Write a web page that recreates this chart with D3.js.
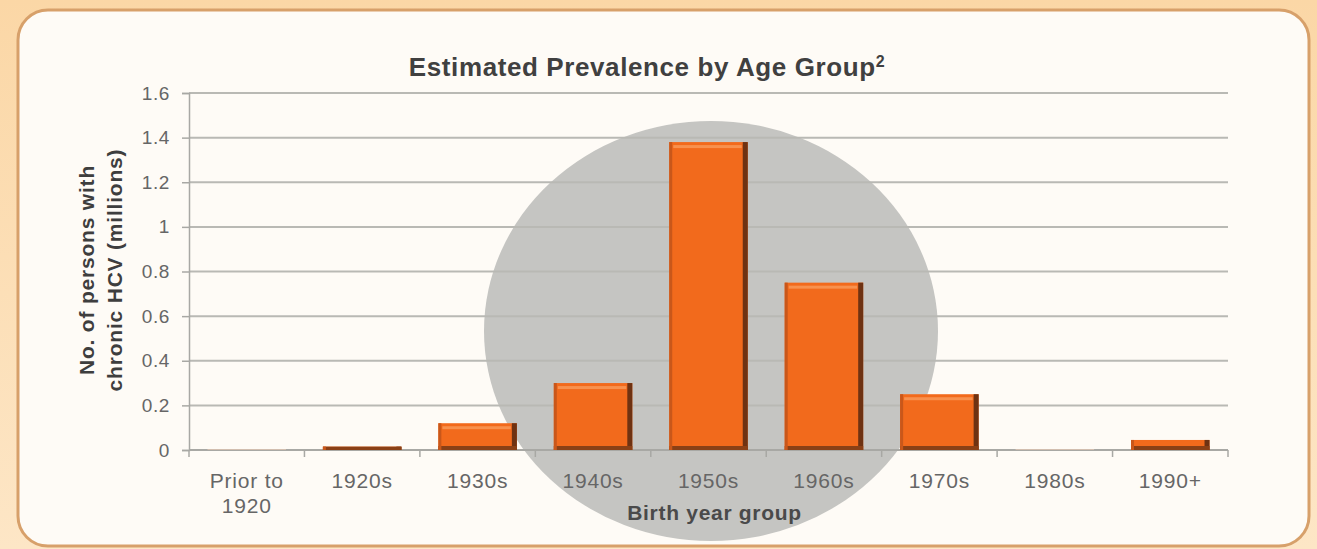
<!DOCTYPE html>
<html>
<head>
<meta charset="utf-8">
<script src="https://cdn.jsdelivr.net/npm/d3@7"></script>
<style>
  html, body { margin: 0; padding: 0; background: #fcdcb2; }
  svg { display: block; }
</style>
</head>
<body>
<div id="chart"></div>
<script>
// data
const groups = ["Prior to 1920", "1920s", "1930s", "1940s", "1950s", "1960s", "1970s", "1980s", "1990+"];
const persons = [0.003, 0.015, 0.12, 0.30, 1.38, 0.75, 0.25, 0.003, 0.045];
const yTicks = [0, 0.2, 0.4, 0.6, 0.8, 1, 1.2, 1.4, 1.6];

const W = 1317, H = 549;
const margin = { top: 93, right: 89, bottom: 99, left: 189 };
const width = W - margin.left - margin.right;
const height = H - margin.top - margin.bottom;
const font = "Liberation Sans, Arial, sans-serif";

const svg = d3.select("#chart").append("svg")
    .attr("width", W)
    .attr("height", H);

// background glow + framed panel
const defs = svg.append("defs");
const bg = defs.append("linearGradient").attr("id", "bg").attr("x1", 0).attr("y1", 0).attr("x2", 0).attr("y2", 1);
bg.append("stop").attr("offset", "0%").attr("stop-color", "#fbd7a6");
bg.append("stop").attr("offset", "100%").attr("stop-color", "#fde6c6");
svg.append("rect").attr("width", W).attr("height", H).attr("fill", "url(#bg)");

svg.append("rect")
    .attr("x", 18).attr("y", 10)
    .attr("width", 1291).attr("height", 536)
    .attr("rx", 30).attr("ry", 30)
    .attr("fill", "#fefbf6")
    .attr("stroke", "#d7a06a")
    .attr("stroke-width", 3);

// grey spotlight behind the middle bars
svg.append("ellipse")
    .attr("cx", 711).attr("cy", 331)
    .attr("rx", 227).attr("ry", 210)
    .attr("fill", "#c5c5c2");

const g = svg.append("g")
    .attr("transform", `translate(${margin.left},${margin.top})`);

const x = d3.scaleBand()
    .domain(groups)
    .range([0, width])
    .paddingInner(0.32)
    .paddingOuter(0.16);

const y = d3.scaleLinear()
    .domain([0, 1.6])
    .range([height, 0]);

// gridlines
g.selectAll(".grid")
    .data(yTicks.slice(1))
    .enter()
    .append("line")
    .attr("class", "grid")
    .attr("x1", 0).attr("x2", width)
    .attr("y1", d => y(d)).attr("y2", d => y(d))
    .attr("stroke", "#b9b9b4")
    .attr("stroke-width", 2);

// y axis
const yAxis = g.append("g")
    .call(d3.axisLeft(y).tickValues(yTicks).tickSize(7).tickPadding(12).tickFormat(d3.format("")));
yAxis.select(".domain").attr("stroke", "#a8a8a4").attr("stroke-width", 1.5);
yAxis.selectAll(".tick line").attr("stroke", "#a8a8a4").attr("stroke-width", 1.5);
yAxis.selectAll("text")
    .attr("fill", "#666")
    .style("font-family", font)
    .style("font-size", "19px")
    .style("letter-spacing", "0.6px");

// x axis baseline and category separators
const step = x.step();
g.append("line")
    .attr("x1", 0).attr("x2", width)
    .attr("y1", height).attr("y2", height)
    .attr("stroke", "#a8a8a4").attr("stroke-width", 2);
g.selectAll(".xsep")
    .data(d3.range(groups.length + 1))
    .enter()
    .append("line")
    .attr("x1", i => i * step).attr("x2", i => i * step)
    .attr("y1", height).attr("y2", height + 7)
    .attr("stroke", "#a8a8a4").attr("stroke-width", 1.5);

// bars with a bevelled look
const bars = g.selectAll(".bar")
    .data(groups.map((k, i) => ({ k, v: persons[i] })))
    .enter()
    .append("g")
    .attr("class", "bar");

bars.append("rect")
    .attr("x", d => x(d.k))
    .attr("y", d => y(d.v))
    .attr("width", x.bandwidth())
    .attr("height", d => height - y(d.v))
    .attr("fill", d => d.v < 0.01 ? "#e8c9b4" : "#f26a1c");

const big = bars.filter(d => d.v >= 0.01);

big.append("rect")
    .attr("x", d => x(d.k) + x.bandwidth() - 5)
    .attr("y", d => y(d.v))
    .attr("width", 5)
    .attr("height", d => height - y(d.v))
    .attr("fill", "#6e3212");

big.append("rect")
    .attr("x", d => x(d.k))
    .attr("y", d => Math.max(y(d.v), height - 4))
    .attr("width", x.bandwidth())
    .attr("height", d => Math.min(4, height - y(d.v)))
    .attr("fill", "#8a4016");

big.append("rect")
    .attr("x", d => x(d.k))
    .attr("y", d => y(d.v))
    .attr("width", 3)
    .attr("height", d => height - y(d.v))
    .attr("fill", "#c9571a");

big.filter(d => d.v > 0.05).append("rect")
    .attr("x", d => x(d.k) + 4)
    .attr("y", d => y(d.v) + 3)
    .attr("width", x.bandwidth() - 10)
    .attr("height", 3)
    .attr("fill", "#f8914e");

// category labels
const labels = g.selectAll(".xlab")
    .data(groups)
    .enter()
    .append("text")
    .attr("x", d => x(d) + x.bandwidth() / 2)
    .attr("y", height + 38)
    .attr("text-anchor", "middle")
    .attr("fill", "#666")
    .style("font-family", font)
    .style("font-size", "21px")
    .style("letter-spacing", "0.8px");
labels.each(function (d) {
    const parts = d === "Prior to 1920" ? ["Prior to", "1920"] : [d];
    const t = d3.select(this);
    parts.forEach((p, i) => {
        t.append("tspan")
            .attr("x", x(d) + x.bandwidth() / 2)
            .attr("dy", i === 0 ? 0 : 25)
            .text(p);
    });
});

// axis titles
g.append("text")
    .attr("x", x("1950s") + x.bandwidth() / 2 + 6)
    .attr("y", height + 70)
    .attr("text-anchor", "middle")
    .attr("fill", "#4a4a4a")
    .style("font-family", font)
    .style("font-size", "21px")
    .style("font-weight", "bold")
    .style("letter-spacing", "0.7px")
    .text("Birth year group");

const yTitle = svg.append("text")
    .attr("transform", `translate(94, 270) rotate(-90)`)
    .attr("text-anchor", "middle")
    .attr("fill", "#3e3e3e")
    .style("font-family", font)
    .style("font-size", "21px")
    .style("font-weight", "bold")
    .style("letter-spacing", "0.8px");
yTitle.append("tspan").attr("x", 0).attr("dy", 0).text("No. of persons with");
yTitle.append("tspan").attr("x", 0).attr("dy", 28).text("chronic HCV (millions)");

// chart title
const title = svg.append("text")
    .attr("x", 647)
    .attr("y", 76)
    .attr("text-anchor", "middle")
    .attr("fill", "#404040")
    .style("font-family", font)
    .style("font-size", "26px")
    .style("font-weight", "bold")
    .style("letter-spacing", "0.6px")
    .text("Estimated Prevalence by Age Group");
title.append("tspan")
    .attr("dy", -9)
    .style("font-size", "16px")
    .text("2");
</script>
</body>
</html>
